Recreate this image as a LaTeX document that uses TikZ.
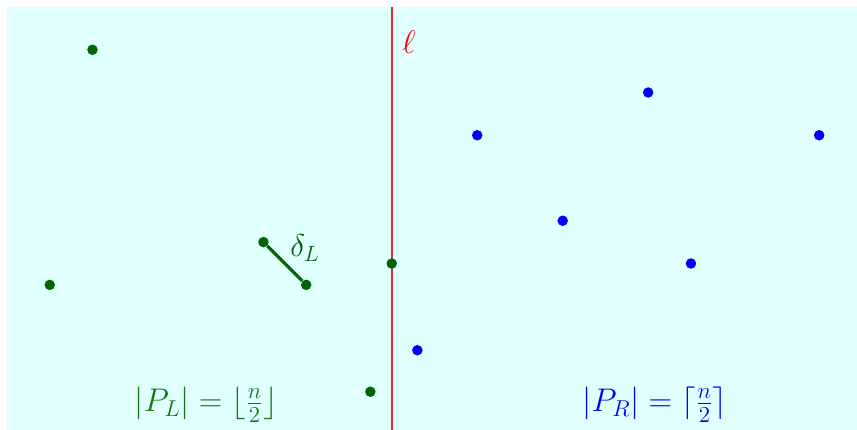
\RequirePackage{fix-cm}
\documentclass[tikz,border=0pt]{standalone}
\usepackage{amsmath}
\definecolor{ptgreen}{RGB}{0,100,0}
\definecolor{txtgreen}{RGB}{20,120,20}
\definecolor{bgcyan}{RGB}{224,255,255}
\definecolor{ellred}{RGB}{215,45,45}
\begin{document}
\begin{tikzpicture}[x=1cm,y=-1cm,
  gpt/.style={circle,fill=ptgreen,inner sep=0pt,minimum size=7pt},
  bpt/.style={circle,fill=blue,inner sep=0pt,minimum size=7pt},
  lbl/.style={font=\fontsize{21.8}{26}\selectfont,inner sep=0pt}]
\useasboundingbox (-0.164,-0.164) rectangle (19.885,9.895);
\fill[bgcyan] (0,0) rectangle (19.885,9.895);
% dividing line
\coordinate (ltop) at (9,0);
\coordinate (lbot) at (9,9.895);
\draw[ellred,line width=1.1pt] (ltop) -- (lbot);
\node[lbl,text=red] (ell) at (9.40,0.82) {$\ell$};
% left points
\node[gpt] (g1) at (2,1) {};
\node[gpt] (g2) at (1,6.5) {};
\node[gpt] (g3) at (6,5.5) {};
\node[gpt] (g4) at (7,6.5) {};
\node[gpt] (g5) at (9,6) {};
\node[gpt] (g6) at (8.5,9) {};
% right points
\node[bpt] (b1) at (11,3) {};
\node[bpt] (b2) at (15,2) {};
\node[bpt] (b3) at (19,3) {};
\node[bpt] (b4) at (13,5) {};
\node[bpt] (b5) at (16,6) {};
\node[bpt] (b6) at (9.6,8.03) {};
% closest pair on the left
\draw[ptgreen,line width=2.2pt] (g3) -- (g4);
\node[lbl,text=ptgreen,font=\fontsize{21}{25}\selectfont] (dL) at (6.97,5.64) {$\delta_L$};
% counts
\node[lbl,text=txtgreen] (PL) at (4.66,9.31) {$|P_L| = \lfloor \frac{n}{2} \rfloor$};
\node[lbl,text=blue] (PR) at (15.16,9.31) {$|P_R| = \lceil \frac{n}{2} \rceil$};
\end{tikzpicture}
\end{document}
